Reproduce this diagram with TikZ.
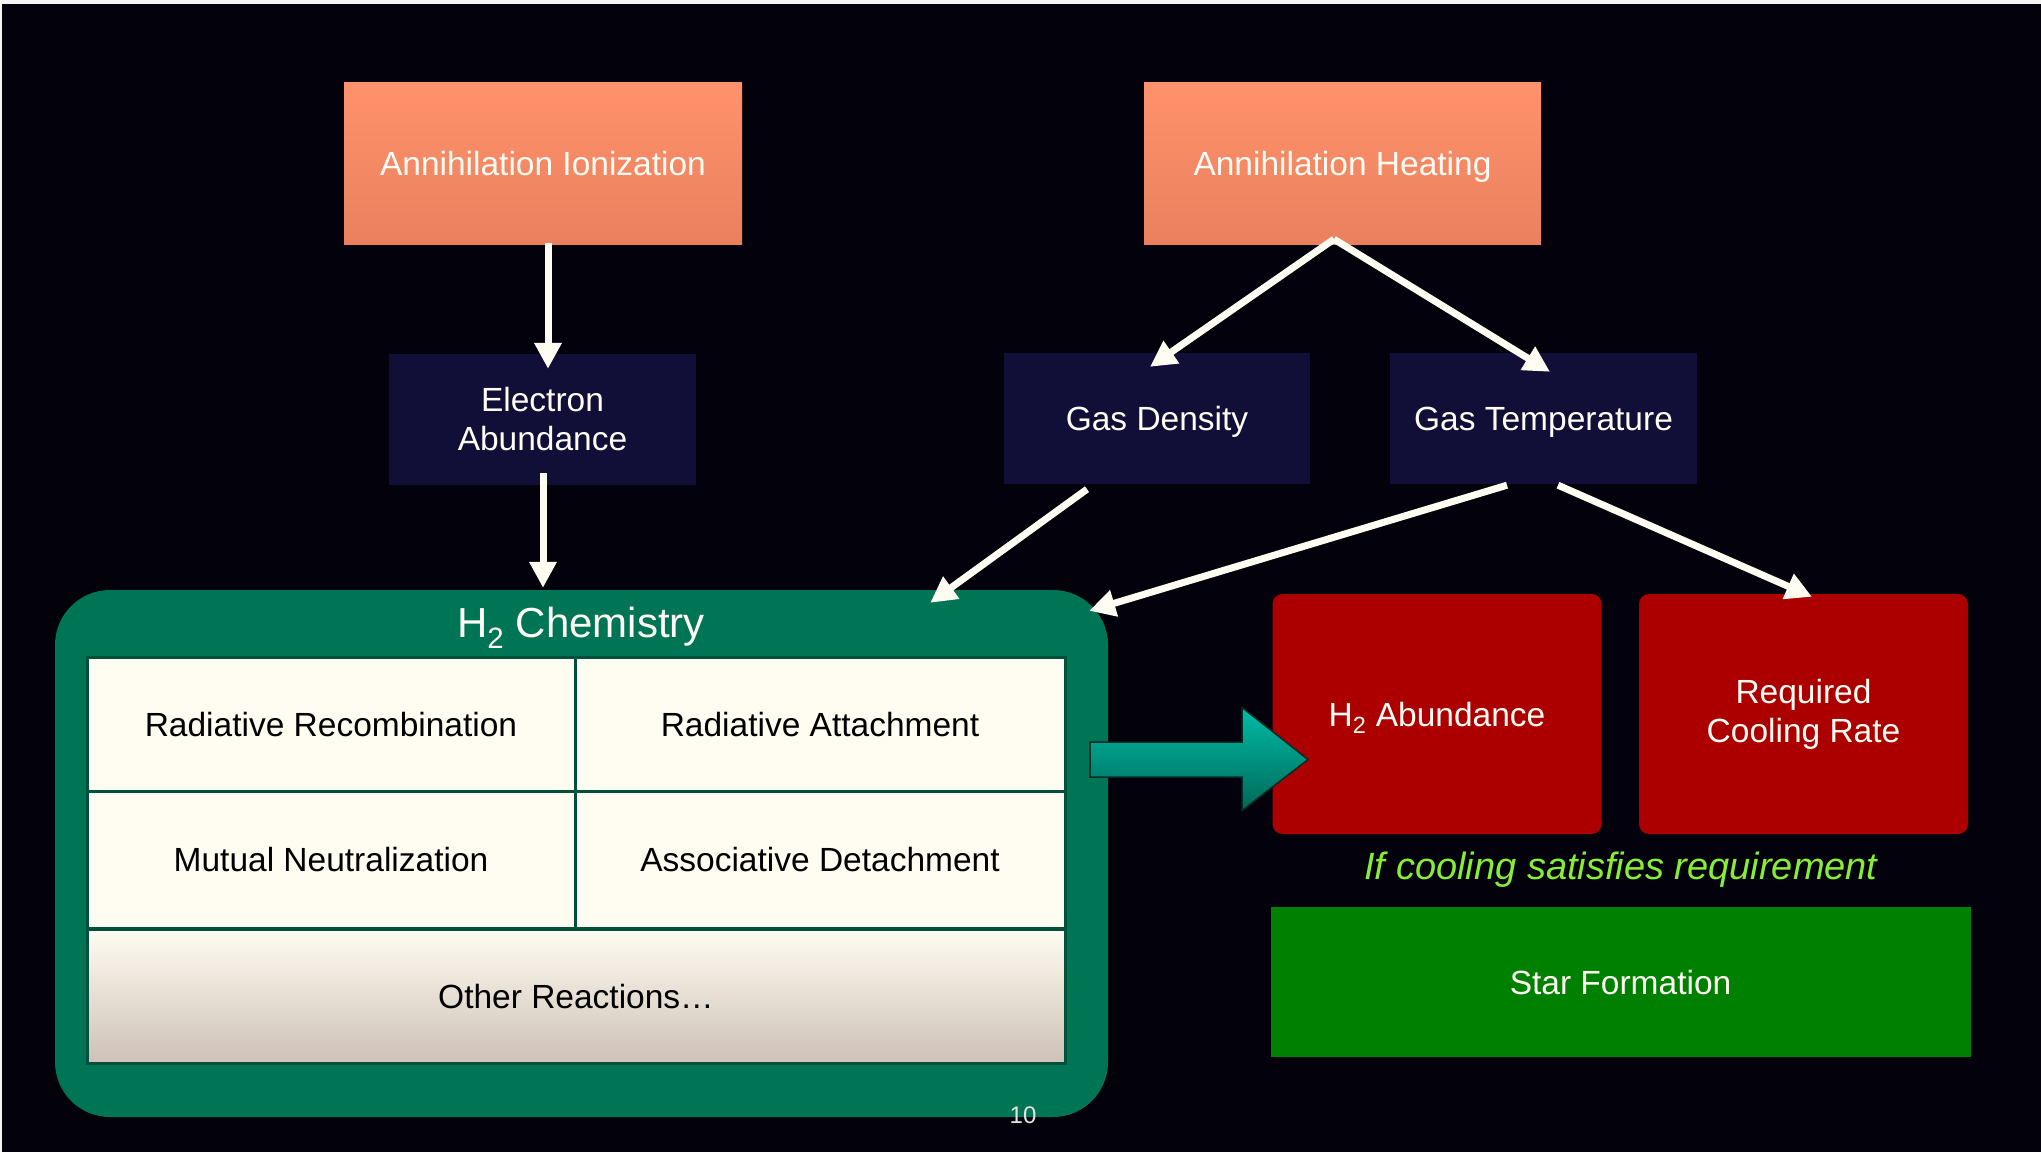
\documentclass[tikz,border=0pt]{standalone}
\usepackage{fontspec}
\setmainfont{Liberation Sans}
\usetikzlibrary{arrows.meta,calc}
\definecolor{bg}{RGB}{3,2,12}
\definecolor{orTop}{RGB}{255,146,108}
\definecolor{orBot}{RGB}{234,128,94}
\definecolor{navy}{RGB}{17,15,55}
\definecolor{chemGreen}{RGB}{0,117,85}
\definecolor{cellLine}{RGB}{0,80,60}
\definecolor{cream}{RGB}{255,252,241}
\definecolor{creamBot}{RGB}{206,193,183}
\definecolor{redBox}{RGB}{172,0,0}
\definecolor{starGreen}{RGB}{0,128,0}
\definecolor{condGreen}{RGB}{135,238,55}
\definecolor{arrW}{RGB}{255,253,242}
\definecolor{txtW}{RGB}{255,252,244}
\definecolor{tealTop}{RGB}{0,188,166}
\definecolor{tealBot}{RGB}{0,104,88}
\definecolor{tealEdge}{RGB}{0,45,38}
\definecolor{pageNum}{RGB}{228,228,228}
\newcommand{\myfs}{\fontsize{33.5}{39}\selectfont}
\begin{document}
\begin{tikzpicture}[x=1pt,y=-1pt,
  base/.style={inner sep=0pt, align=center, font=\myfs, text=txtW},
  oneline/.style={text height=24pt, text depth=0pt},
  orangebox/.style={base, oneline, top color=orTop, bottom color=orBot, minimum width=398pt, minimum height=162pt},
  navybox/.style={base, fill=navy, minimum width=307pt, minimum height=131pt},
  redbox/.style={base, fill=redBox, rounded corners=10pt, minimum width=329pt, minimum height=240pt},
  cell/.style={inner sep=0pt, align=center, font=\myfs, text=black, draw=cellLine, line width=3pt, fill=cream, oneline},
  conn/.style={draw=arrW, line width=7pt, -{Triangle[length=26pt,width=26pt]}}
]
\fill[bg] (0,0) rectangle (2041,1152);
\useasboundingbox (0,0) rectangle (2041,1152);
\fill[white!92!gray] (0,0) rectangle (2041,4);
\fill[white!92!gray] (0,0) rectangle (2,1152);

% top row
\node[orangebox] (ion) at (543,163) {Annihilation Ionization};
\node[orangebox, minimum width=397pt] (heat) at (1342.5,163) {Annihilation Heating};

% second row
\node[navybox] (elec) at (542.5,419.5) {Electron\\Abundance};
\node[navybox, oneline, minimum width=306pt] (dens) at (1157,418.5) {Gas Density};
\node[navybox, oneline] (temp) at (1543.5,418.5) {Gas Temperature};

% H2 chemistry container
\node[fill=chemGreen, rounded corners=55pt, minimum width=1053pt, minimum height=527pt, inner sep=0pt] (chem) at (581.5,853.5) {};
\node[base, font=\fontsize{42}{48}\selectfont, text height=30pt, text depth=0pt] (chemt) at (581,622) {H\textsubscript{2} Chemistry};

% table cells
\node[cell, minimum width=488pt, minimum height=134pt] (rr) at (331,724) {Radiative Recombination};
\node[cell, minimum width=490pt, minimum height=134pt] (ra) at (820,724) {Radiative Attachment};
\node[cell, minimum width=488pt, minimum height=137pt] (mn) at (331,859.5) {Mutual Neutralization};
\node[cell, minimum width=490pt, minimum height=137pt] (ad) at (820,859.5) {Associative Detachment};
\node[cell, fill=none, top color=cream, bottom color=creamBot, minimum width=978pt, minimum height=134pt] (other) at (576,996) {Other Reactions…};

% page number
\node[text=pageNum, font=\fontsize{24}{28}\selectfont, inner sep=0pt] (page) at (1023,1115) {10};

% right side
\node[redbox, oneline] (h2ab) at (1437,714) {H\textsubscript{2} Abundance};
\node[redbox] (cool) at (1803.5,714) {Required\\Cooling Rate};
\node[text=condGreen, font=\fontsize{38}{44}\selectfont\itshape, inner sep=0pt, text height=27pt, text depth=0pt] (cond) at (1621,866) {If cooling satisfies requirement};
\node[base, oneline, fill=starGreen, minimum width=700pt, minimum height=150pt] (star) at (1620.5,982) {Star Formation};

% big teal arrow (chem -> H2 abundance)
\coordinate (flowS) at (1090,759.5);
\begin{scope}[shift={(flowS)}]
\shadedraw[top color=tealTop, bottom color=tealBot, draw=tealEdge, line width=1.5pt, line join=miter]
  (0,-17.5) -- (152,-17.5) -- (152,-52) -- (218,0) -- (152,51) -- (152,17.5) -- (0,17.5) -- cycle;
\end{scope}

% connectors
\draw[conn] ($(ion.south)+(5,-1)$) -- ($(elec.north)+(5.5,15)$);
\draw[conn] ($(elec.south)+(0.5,-12)$) -- ($(chem.north)+(-38.5,-2)$);
\draw[conn] ($(heat.south)+(-8.5,-5)$) -- ($(dens.north)+(-7,14)$);
\draw[conn] ($(heat.south)+(-8.5,-5)$) -- ($(temp.north)+(6.5,19)$);
\draw[conn] ($(dens.south)+(-70,5)$) -- ($(chem.north east)+(-178,13)$);
\draw[conn] ($(temp.south)+(-36.5,1)$) -- ($(chem.north east)+(-19,21)$);
\draw[conn] ($(temp.south)+(14.5,1)$) -- ($(cool.north)+(8.5,3)$);
\end{tikzpicture}
\end{document}
